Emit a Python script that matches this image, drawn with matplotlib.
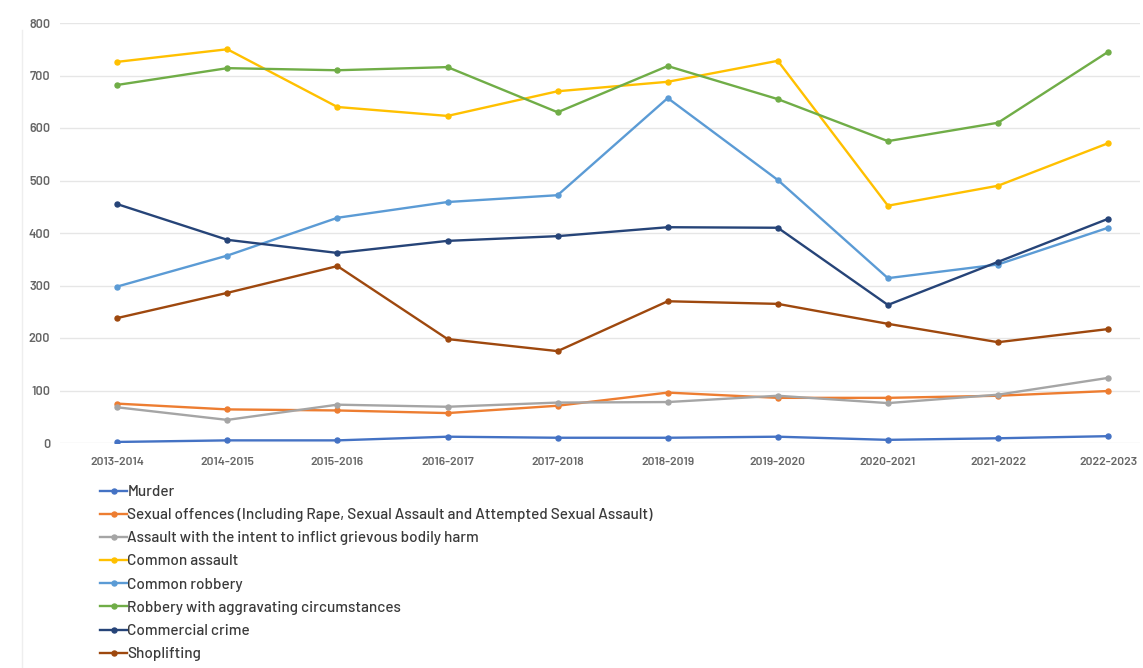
import matplotlib
matplotlib.use("Agg")
import matplotlib.pyplot as plt
from matplotlib.lines import Line2D
from matplotlib import font_manager

years = ["2013-2014", "2014-2015", "2015-2016", "2016-2017", "2017-2018",
         "2018-2019", "2019-2020", "2020-2021", "2021-2022", "2022-2023"]

murder = [2, 5, 5, 12, 10, 10, 12, 6, 9, 13]
sexual_offences = [75, 64, 62, 57, 71, 96, 86, 86, 90, 99]
assault_gbh = [68, 44, 73, 69, 77, 78, 90, 76, 92, 124]
common_assault = [726, 750, 640, 623, 670, 688, 728, 452, 490, 571]
common_robbery = [298, 357, 429, 459, 472, 657, 501, 314, 340, 410]
robbery_aggravating = [682, 714, 710, 716, 630, 718, 655, 575, 610, 745]
commercial_crime = [455, 387, 362, 385, 394, 411, 410, 263, 345, 427]
shoplifting = [238, 286, 337, 198, 175, 270, 265, 227, 192, 217]

labels = ["Murder",
          "Sexual offences (Including Rape, Sexual Assault and Attempted Sexual Assault)",
          "Assault with the intent to inflict grievous bodily harm",
          "Common assault",
          "Common robbery",
          "Robbery with aggravating circumstances",
          "Commercial crime",
          "Shoplifting"]
series = [murder, sexual_offences, assault_gbh, common_assault,
          common_robbery, robbery_aggravating, commercial_crime, shoplifting]
colors = ["#4472C4", "#ED7D31", "#A5A5A5", "#FFC000",
          "#5B9BD5", "#70AD47", "#264478", "#9E480E"]

names = {f.name for f in font_manager.fontManager.ttflist}
fam = "DejaVu Sans"
for cand in ["Barlow", "Bahnschrift", "D-DIN", "Saira", "DejaVu Sans"]:
    if cand in names:
        fam = cand
        break
plt.rcParams["font.family"] = [fam, "DejaVu Sans"]
weight = "medium" if fam == "Barlow" else "normal"
plt.rcParams["font.weight"] = weight

W, H = 1143, 668
fig = plt.figure(figsize=(W / 100, H / 100), dpi=100)
renderer = fig.canvas.get_renderer()


def fit_size(text, target_px, base=10.0, weight=None):
    t = fig.text(0, 0, text, fontsize=base, fontweight=weight or plt.rcParams["font.weight"])
    w = t.get_window_extent(renderer).width
    t.remove()
    return base * target_px / w


leg_fs = fit_size(labels[1], 524)
tick_w = "semibold" if fam == "Barlow" else "normal"
tick_fs = fit_size(years[0], 54, weight=tick_w)
ytick_fs = fit_size("800", 21, weight=tick_w)

ax = fig.add_axes([60 / W, (H - 443) / H, (1140 - 60) / W, (443 - 23) / H])

x = list(range(len(years)))
for vals, lab, c in zip(series, labels, colors):
    ax.plot(x, vals, color=c, lw=1.7, marker="o", ms=3.6, label=lab)

ax.set_xlim(-0.52, 9.29)
ax.set_ylim(0, 800)
ax.set_yticks(range(0, 801, 100))
ax.set_xticks(x)
ax.set_xticklabels(years)
ax.tick_params(axis="both", length=0, colors="#666666")
ax.tick_params(axis="x", pad=10, labelsize=tick_fs)
ax.tick_params(axis="y", pad=7, labelsize=ytick_fs)
for lab in ax.get_xticklabels() + ax.get_yticklabels():
    lab.set_fontweight(tick_w)
ax.grid(axis="y", color="#e6e6e6", lw=1)
ax.set_axisbelow(True)
for s in ax.spines.values():
    s.set_visible(False)

handles, labs = ax.get_legend_handles_labels()
leg = fig.legend(handles, labs, loc="upper left",
                 bbox_to_anchor=(100 / W, 1 - 485 / H),
                 frameon=False, fontsize=leg_fs, handlelength=1.8,
                 handletextpad=0.0, labelspacing=0.6, borderaxespad=0,
                 borderpad=0)
for t in leg.get_texts():
    t.set_color("#3a3a3a")

fig.add_artist(Line2D([22 / W, 22 / W], [0, 1 - 30 / H], color="#eeeeee", lw=1,
                      transform=fig.transFigure))

fig.savefig("out.png", dpi=100)
